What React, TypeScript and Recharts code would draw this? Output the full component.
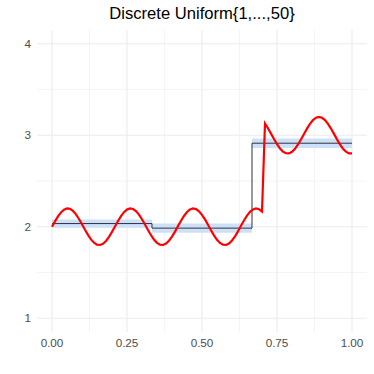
import React from 'react';
import { ComposedChart, Line, Area, XAxis, YAxis, CartesianGrid } from 'recharts';

const title = 'Discrete Uniform{1,...,50}';

const curveX = [
  0.0, 0.01, 0.02, 0.03, 0.04, 0.05, 0.06, 0.07, 0.08, 0.09,
  0.1, 0.11, 0.12, 0.13, 0.14, 0.15, 0.16, 0.17, 0.18, 0.19,
  0.2, 0.21, 0.22, 0.23, 0.24, 0.25, 0.26, 0.27, 0.28, 0.29,
  0.3, 0.31, 0.32, 0.33, 0.34, 0.35, 0.36, 0.37, 0.38, 0.39,
  0.4, 0.41, 0.42, 0.43, 0.44, 0.45, 0.46, 0.47, 0.48, 0.49,
  0.5, 0.51, 0.52, 0.53, 0.54, 0.55, 0.56, 0.57, 0.58, 0.59,
  0.6, 0.61, 0.62, 0.63, 0.64, 0.65, 0.66, 0.67, 0.68, 0.69,
  0.7, 0.71, 0.72, 0.73, 0.74, 0.75, 0.76, 0.77, 0.78, 0.79,
  0.8, 0.81, 0.82, 0.83, 0.84, 0.85, 0.86, 0.87, 0.88, 0.89,
  0.9, 0.91, 0.92, 0.93, 0.94, 0.95, 0.96, 0.97, 0.98, 0.99,
  1.0,
];
const curveY = [
  2.0, 2.059, 2.113, 2.157, 2.186, 2.2, 2.195, 2.173, 2.135, 2.085,
  2.028, 1.968, 1.912, 1.862, 1.826, 1.805, 1.801, 1.815, 1.845, 1.89,
  1.944, 2.003, 2.062, 2.116, 2.159, 2.188, 2.2, 2.194, 2.171, 2.133,
  2.082, 2.025, 1.965, 1.908, 1.86, 1.824, 1.804, 1.801, 1.816, 1.848,
  1.893, 1.947, 2.007, 2.066, 2.118, 2.161, 2.189, 2.2, 2.193, 2.169,
  2.13, 2.08, 2.022, 1.962, 1.906, 1.858, 1.823, 1.803, 1.801, 1.817,
  1.85, 1.896, 1.95, 2.01, 2.069, 2.121, 2.163, 2.19, 2.2, 2.192,
  2.167, 3.128, 3.076, 3.018, 2.959, 2.903, 2.855, 2.821, 2.803, 2.802,
  2.819, 2.852, 2.899, 2.954, 3.013, 3.072, 3.124, 3.165, 3.191, 3.2,
  3.191, 3.166, 3.125, 3.073, 3.015, 2.955, 2.9, 2.853, 2.82, 2.802,
  2.802,
];

const stepX = [0, 0.3333, 0.6667, 1.0];
const stepY = [2.035, 1.985, 2.913, 2.913];
const bandLow = [1.99, 1.935, 2.86, 2.86];
const bandHigh = [2.08, 2.035, 2.965, 2.965];

const xTicks = [0, 0.25, 0.5, 0.75, 1];
const yTicks = [1, 2, 3, 4];
const xMinor = [0.125, 0.375, 0.625, 0.875];
const yMinor = [1.5, 2.5, 3.5];

const curveData = curveX.map((x, i) => ({ x, y: curveY[i] }));
const stepData = stepX.map((x, i) => ({ x, y: stepY[i], band: [bandLow[i], bandHigh[i]] }));

const font = '"Liberation Sans", Arial, Helvetica, sans-serif';

export default function App() {
  return (
    <div style={{ position: 'absolute', left: 0, top: 0, width: 374, height: 374, background: '#fff' }}>
      <div
        style={{
          position: 'absolute',
          left: 37,
          width: 330,
          top: 6,
          textAlign: 'center',
          fontFamily: font,
          fontSize: 16.6,
          lineHeight: '16px',
          color: '#000',
          whiteSpace: 'nowrap',
        }}
      >
        {title}
      </div>
      <ComposedChart
        width={374}
        height={374}
        margin={{ top: 30, right: 7, bottom: 12, left: 0 }}
      >
        <CartesianGrid
          stroke="#ebebeb"
          strokeWidth={0.55}
          horizontalValues={yMinor}
          verticalValues={xMinor}
        />
        <CartesianGrid
          stroke="#ebebeb"
          strokeWidth={1.07}
          horizontalValues={yTicks}
          verticalValues={xTicks}
        />
        <XAxis
          type="number"
          dataKey="x"
          domain={[-0.05, 1.05]}
          ticks={xTicks}
          tickFormatter={(v: number) => v.toFixed(2)}
          axisLine={false}
          tickLine={false}
          tickSize={0}
          tickMargin={7}
          height={30}
          allowDataOverflow
          interval={0}
          tick={{ fill: '#4d4d4d', fontSize: 11.7, fontFamily: font }}
        />
        <YAxis
          type="number"
          domain={[0.85, 4.15]}
          ticks={yTicks}
          axisLine={false}
          tickLine={false}
          tickSize={0}
          tickMargin={6}
          width={37}
          allowDataOverflow
          interval={0}
          tick={{ fill: '#4d4d4d', fontSize: 11.7, fontFamily: font }}
        />
        <Area
          data={stepData}
          dataKey="band"
          type="stepAfter"
          stroke="none"
          fill="#cde0f9"
          fillOpacity={1}
          isAnimationActive={false}
          dot={false}
          activeDot={false}
        />
        <Line
          data={stepData}
          dataKey="y"
          type="stepAfter"
          stroke="#333333"
          strokeWidth={1}
          dot={false}
          activeDot={false}
          isAnimationActive={false}
        />
        <Line
          data={curveData}
          dataKey="y"
          type="linear"
          stroke="#ff0000"
          strokeWidth={2.2}
          dot={false}
          activeDot={false}
          isAnimationActive={false}
        />
      </ComposedChart>
    </div>
  );
}
